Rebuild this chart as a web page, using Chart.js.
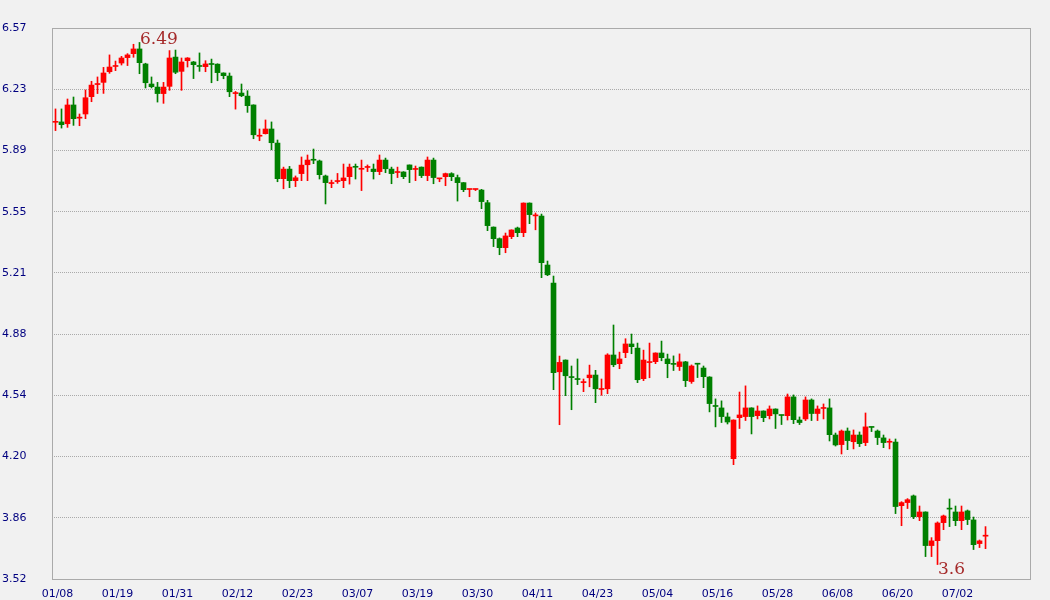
<!DOCTYPE html>
<html>
<head>
<meta charset="utf-8">
<script src="https://cdn.jsdelivr.net/npm/chart.js@4/dist/chart.umd.min.js"></script>
<style>
  html, body { margin: 0; padding: 0; background: #f1f1f1; }
  canvas { display: block; }
</style>
</head>
<body>
<canvas id="chart" width="1050" height="600"></canvas>
<script>
// tick labels under the x axis, one every 10 sessions
const dateLabels = ['01/08', '01/19', '01/31', '02/12', '02/23', '03/07', '03/19', '03/30',
  '04/11', '04/23', '05/04', '05/16', '05/28', '06/08', '06/20', '07/02'];
const priceLabels = ['3.52', '3.86', '4.20', '4.54', '4.88', '5.21', '5.55', '5.89', '6.23', '6.57'];

// daily prices
const open = [
  6.048, 6.050, 6.040, 6.144, 6.071, 6.094, 6.190, 6.257, 6.269, 6.328,
  6.357, 6.376, 6.406, 6.428, 6.454, 6.371, 6.260, 6.243, 6.207, 6.247,
  6.409, 6.330, 6.389, 6.382, 6.359, 6.356, 6.370, 6.370, 6.321, 6.304,
  6.207, 6.210, 6.193, 6.144, 5.971, 5.985, 6.011, 5.933, 5.736, 5.789,
  5.725, 5.764, 5.813, 5.840, 5.834, 5.751, 5.709, 5.720, 5.725, 5.747,
  5.801, 5.788, 5.798, 5.789, 5.775, 5.839, 5.789, 5.770, 5.773, 5.812,
  5.787, 5.800, 5.753, 5.839, 5.735, 5.747, 5.764, 5.742, 5.714, 5.676,
  5.676, 5.673, 5.603, 5.468, 5.404, 5.354, 5.415, 5.463, 5.437, 5.601,
  5.530, 5.529, 5.258, 5.158, 4.667, 4.732, 4.637, 4.626, 4.607, 4.634,
  4.649, 4.569, 4.573, 4.760, 4.712, 4.773, 4.821, 4.798, 4.629, 4.718,
  4.723, 4.771, 4.738, 4.710, 4.696, 4.722, 4.613, 4.711, 4.688, 4.638,
  4.477, 4.467, 4.417, 4.186, 4.413, 4.419, 4.467, 4.424, 4.450, 4.424,
  4.461, 4.427, 4.424, 4.528, 4.400, 4.406, 4.511, 4.436, 4.464, 4.467,
  4.317, 4.264, 4.339, 4.280, 4.317, 4.275, 4.361, 4.339, 4.301, 4.277,
  4.278, 3.926, 3.943, 3.980, 3.865, 3.891, 3.705, 3.732, 3.832, 3.909,
  3.891, 3.843, 3.897, 3.847, 3.716, 3.757
];
const high = [
  6.122, 6.122, 6.177, 6.188, 6.094, 6.227, 6.275, 6.299, 6.352, 6.421,
  6.387, 6.413, 6.428, 6.480, 6.490, 6.375, 6.299, 6.269, 6.269, 6.445,
  6.448, 6.404, 6.406, 6.385, 6.432, 6.389, 6.398, 6.372, 6.322, 6.321,
  6.219, 6.260, 6.223, 6.145, 6.011, 6.061, 6.050, 5.950, 5.800, 5.804,
  5.751, 5.856, 5.867, 5.900, 5.839, 5.756, 5.728, 5.765, 5.817, 5.817,
  5.817, 5.839, 5.812, 5.817, 5.867, 5.850, 5.800, 5.800, 5.775, 5.812,
  5.806, 5.801, 5.856, 5.850, 5.738, 5.767, 5.769, 5.756, 5.715, 5.678,
  5.678, 5.677, 5.616, 5.469, 5.408, 5.435, 5.453, 5.468, 5.602, 5.602,
  5.546, 5.540, 5.280, 5.197, 4.754, 4.733, 4.699, 4.738, 4.627, 4.704,
  4.675, 4.627, 4.767, 4.926, 4.776, 4.850, 4.876, 4.826, 4.787, 4.826,
  4.772, 4.837, 4.765, 4.755, 4.766, 4.725, 4.705, 4.714, 4.699, 4.640,
  4.517, 4.506, 4.439, 4.401, 4.555, 4.589, 4.468, 4.478, 4.451, 4.478,
  4.462, 4.427, 4.544, 4.539, 4.417, 4.528, 4.517, 4.478, 4.489, 4.517,
  4.328, 4.345, 4.356, 4.345, 4.334, 4.439, 4.361, 4.345, 4.317, 4.295,
  4.295, 3.948, 3.965, 3.985, 3.924, 3.892, 3.749, 3.836, 3.874, 3.963,
  3.924, 3.924, 3.902, 3.863, 3.736, 3.810
];
const low = [
  6.002, 6.016, 6.020, 6.031, 6.029, 6.068, 6.162, 6.207, 6.208, 6.319,
  6.334, 6.365, 6.362, 6.408, 6.317, 6.238, 6.238, 6.160, 6.153, 6.225,
  6.317, 6.225, 6.354, 6.290, 6.330, 6.328, 6.267, 6.278, 6.289, 6.190,
  6.121, 6.190, 6.103, 5.957, 5.946, 5.983, 5.896, 5.719, 5.680, 5.686,
  5.692, 5.725, 5.725, 5.819, 5.734, 5.596, 5.686, 5.710, 5.686, 5.706,
  5.734, 5.670, 5.775, 5.734, 5.758, 5.769, 5.708, 5.742, 5.736, 5.714,
  5.725, 5.742, 5.725, 5.708, 5.719, 5.697, 5.725, 5.612, 5.664, 5.636,
  5.670, 5.570, 5.448, 5.360, 5.315, 5.326, 5.404, 5.415, 5.415, 5.487,
  5.453, 5.188, 5.199, 4.568, 4.374, 4.535, 4.457, 4.596, 4.557, 4.584,
  4.496, 4.537, 4.546, 4.695, 4.684, 4.745, 4.767, 4.607, 4.618, 4.634,
  4.712, 4.728, 4.634, 4.674, 4.674, 4.585, 4.603, 4.635, 4.579, 4.445,
  4.362, 4.386, 4.378, 4.153, 4.353, 4.397, 4.323, 4.406, 4.391, 4.406,
  4.353, 4.375, 4.400, 4.380, 4.375, 4.397, 4.397, 4.397, 4.406, 4.284,
  4.256, 4.212, 4.236, 4.240, 4.253, 4.258, 4.336, 4.264, 4.247, 4.240,
  3.882, 3.815, 3.910, 3.854, 3.843, 3.644, 3.644, 3.600, 3.793, 3.810,
  3.815, 3.793, 3.821, 3.683, 3.694, 3.688
];
const close = [
  6.050, 6.035, 6.144, 6.068, 6.073, 6.184, 6.254, 6.259, 6.321, 6.354,
  6.359, 6.404, 6.421, 6.454, 6.378, 6.267, 6.245, 6.207, 6.243, 6.404,
  6.325, 6.382, 6.404, 6.367, 6.357, 6.371, 6.368, 6.323, 6.306, 6.217,
  6.209, 6.195, 6.140, 5.979, 5.973, 6.011, 5.935, 5.736, 5.789, 5.725,
  5.741, 5.811, 5.839, 5.838, 5.758, 5.714, 5.711, 5.722, 5.740, 5.800,
  5.799, 5.790, 5.800, 5.775, 5.839, 5.791, 5.764, 5.772, 5.747, 5.786,
  5.789, 5.753, 5.839, 5.742, 5.737, 5.764, 5.747, 5.714, 5.675, 5.678,
  5.678, 5.609, 5.476, 5.404, 5.354, 5.419, 5.452, 5.437, 5.601, 5.537,
  5.532, 5.271, 5.204, 4.662, 4.719, 4.645, 4.635, 4.624, 4.609, 4.649,
  4.573, 4.571, 4.760, 4.706, 4.738, 4.821, 4.806, 4.623, 4.732, 4.720,
  4.771, 4.745, 4.712, 4.708, 4.722, 4.618, 4.699, 4.709, 4.640, 4.491,
  4.475, 4.419, 4.389, 4.400, 4.428, 4.467, 4.419, 4.450, 4.413, 4.461,
  4.434, 4.425, 4.528, 4.402, 4.386, 4.511, 4.436, 4.461, 4.466, 4.319,
  4.262, 4.339, 4.286, 4.317, 4.269, 4.362, 4.359, 4.303, 4.275, 4.279,
  3.921, 3.943, 3.959, 3.865, 3.891, 3.705, 3.731, 3.830, 3.869, 3.907,
  3.843, 3.891, 3.849, 3.710, 3.731, 3.759
];

const UP = '#ff0000';
const DOWN = '#008000';
const colors = open.map((o, i) => close[i] >= o ? UP : DOWN);
const wicks = open.map((o, i) => ({ x: i, y: [low[i], high[i]] }));
const bodies = open.map((o, i) => ({ x: i, y: [o, close[i]] }));

const yMin = 3.52, yMax = 6.57;

// frame round the plot + labels at the highest high and lowest low
const framePlugin = {
  id: 'frame',
  beforeDatasetsDraw(chart) {
    const { ctx, chartArea: a } = chart;
    ctx.save();
    ctx.strokeStyle = '#aaaaaa';
    ctx.lineWidth = 1;
    ctx.strokeRect(a.left + 0.5, a.top + 0.5, a.right - a.left - 1, a.bottom - a.top);
    ctx.restore();
  },
  afterDatasetsDraw(chart) {
    const { ctx, scales: { x, y } } = chart;
    const hi = Math.max(...high), lo = Math.min(...low);
    const hiIdx = high.indexOf(hi), loIdx = low.indexOf(lo);
    ctx.save();
    ctx.font = '17px "DejaVu Serif"';
    ctx.fillStyle = '#a52a2a';
    ctx.textAlign = 'left';
    ctx.textBaseline = 'alphabetic';
    ctx.fillText(String(hi), x.getPixelForValue(hiIdx) + 0.5, y.getPixelForValue(hi) + 1.5);
    ctx.fillText(String(lo), x.getPixelForValue(loIdx) + 0.5, y.getPixelForValue(lo) + 9.5);
    ctx.restore();
  }
};

const tickFont = { family: '"DejaVu Sans"', size: 11 };

new Chart(document.getElementById('chart'), {
  type: 'bar',
  data: {
    datasets: [
      {
        data: wicks,
        backgroundColor: colors,
        grouped: false,
        barPercentage: 1,
        categoryPercentage: 1,
        maxBarThickness: 1,
        minBarLength: 1,
        borderWidth: 0
      },
      {
        data: bodies,
        backgroundColor: colors,
        grouped: false,
        barPercentage: 1,
        categoryPercentage: 1,
        maxBarThickness: 5,
        minBarLength: 1,
        borderWidth: 0
      }
    ]
  },
  options: {
    responsive: false,
    animation: false,
    devicePixelRatio: 1,
    layout: { padding: { left: 2, top: 28, right: 19, bottom: 0 } },
    plugins: {
      legend: { display: false },
      tooltip: { enabled: false }
    },
    scales: {
      x: {
        type: 'linear',
        offset: false,
        min: -0.5833,
        max: 162.58,
        grid: { display: false },
        border: { display: false },
        afterBuildTicks: s => { s.ticks = dateLabels.map((_, k) => ({ value: k * 10 })); },
        afterFit: s => { s.height = 21; },
        ticks: {
          autoSkip: false,
          maxRotation: 0,
          padding: 1,
          labelOffset: 2,
          color: '#000080',
          font: tickFont,
          callback: (v, k) => dateLabels[k]
        }
      },
      y: {
        min: yMin,
        max: yMax,
        grid: { color: '#aaaaaa', lineWidth: 1, drawTicks: false },
        border: { display: false, dash: [1, 1] },
        afterBuildTicks: s => {
          s.ticks = priceLabels.map((_, k) => ({ value: yMin + k * (yMax - yMin) / (priceLabels.length - 1) }));
        },
        afterFit: s => { s.width = 50; },
        ticks: {
          crossAlign: 'far',
          autoSkip: false,
          color: '#000080',
          font: tickFont,
          callback: (v, k) => priceLabels[k]
        }
      }
    }
  },
  plugins: [framePlugin]
});
</script>
</body>
</html>
